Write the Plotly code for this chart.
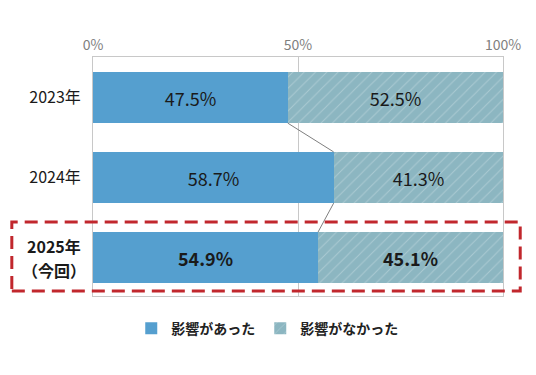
import plotly.graph_objects as go

years = ["2023年", "2024年", "2025年（今回）"]
tick_labels = ["2023年", "2024年", ""]
highlight_lines = ["<b>2025年</b>", "<b>（今回）</b>"]
affected = [47.5, 58.7, 54.9]
not_affected = [52.5, 41.3, 45.1]
series_names = ["<b>影響があった</b>", "<b>影響がなかった</b>"]
x_ticks = [0, 50, 100]
x_tick_text = ["0%", "50%", "100%"]

FONT = "Noto Sans CJK JP"
BAR_W = 0.64
ypos = list(range(len(years)))

def fmt(v, i):
    s = f"{v:.1f}%"
    return f"<b>{s}</b>" if i == len(years) - 1 else s

fig = go.Figure()
fig.add_trace(go.Bar(
    y=ypos, x=affected, orientation="h", name=series_names[0], width=BAR_W,
    marker=dict(color="#559fcf", line=dict(width=0)),
    text=[fmt(v, i) for i, v in enumerate(affected)],
    textposition="inside", insidetextanchor="middle",
    textfont=dict(size=18, color="#1a1a1a", family=FONT),
))
fig.add_trace(go.Bar(
    y=ypos, x=not_affected, orientation="h", name=series_names[1], width=BAR_W,
    marker=dict(color="#8cb6c1", line=dict(width=0),
                pattern=dict(shape="/", bgcolor="#8cb6c1", fgcolor="#c9dfe4",
                             size=8, solidity=0.12)),
    text=[fmt(v, i) for i, v in enumerate(not_affected)],
    textposition="inside", insidetextanchor="middle",
    textfont=dict(size=18, color="#1a1a1a", family=FONT),
))

shapes = []
for i in range(len(years) - 1):
    shapes.append(dict(type="line", xref="x", yref="y",
                       x0=affected[i], y0=i + BAR_W / 2,
                       x1=affected[i + 1], y1=i + 1 - BAR_W / 2,
                       line=dict(color="#7f7f7f", width=1)))
shapes.append(dict(type="rect", xref="paper", yref="paper",
                   x0=-0.198, x1=1.042, y0=0.021, y1=0.31,
                   line=dict(color="#c1272d", width=3, dash="13px,7px"),
                   fillcolor="rgba(0,0,0,0)", layer="above"))

annotations = []
for txt, shift in zip(highlight_lines, [12, -12]):
    annotations.append(dict(xref="paper", yref="y", x=-0.095, y=ypos[-1], xanchor="center",
                            yanchor="middle", yshift=shift, text=txt, showarrow=False,
                            font=dict(size=16, color="#1a1a1a", family=FONT)))

fig.update_layout(
    width=528, height=367,
    barmode="stack",
    bargap=0,
    plot_bgcolor="white", paper_bgcolor="white",
    margin=dict(l=85, r=33, t=49, b=79),
    font=dict(family=FONT),
    shapes=shapes,
    annotations=annotations,
    showlegend=True,
    legend=dict(orientation="h", x=0.425, xanchor="center", y=-0.07, yanchor="top",
                font=dict(size=14, color="#222", family=FONT),
                itemwidth=30, traceorder="normal"),
    xaxis=dict(range=[0, 100], side="top", tickvals=x_ticks, ticktext=x_tick_text,
               tickfont=dict(size=14, color="#7f7f7f", family=FONT),
               showgrid=True, gridcolor="#c8c8c8", gridwidth=1,
               showline=True, linecolor="#c8c8c8", mirror=True,
               zeroline=False, ticks="", automargin=False),
    yaxis=dict(range=[2.48, -0.506], tickvals=ypos, ticktext=tick_labels,
               tickfont=dict(size=16, color="#1a1a1a", family=FONT),
               showgrid=False, showline=True, linecolor="#c8c8c8", mirror=True,
               zeroline=False, ticks="", ticklabelstandoff=8, automargin=False),
)

fig.write_html("out.html")
